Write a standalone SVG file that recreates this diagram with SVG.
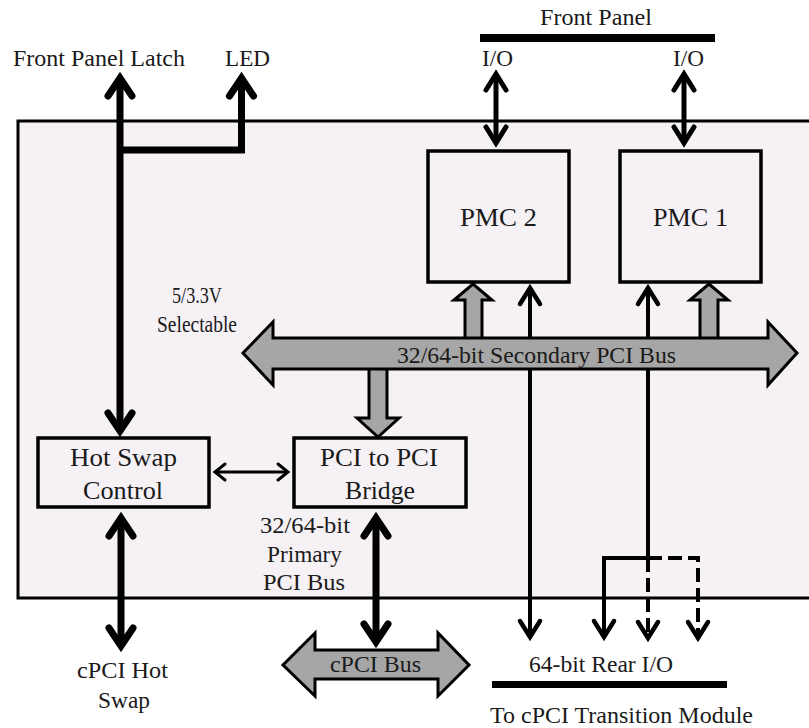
<svg xmlns="http://www.w3.org/2000/svg" width="809" height="728" viewBox="0 0 809 728" font-family="'Liberation Serif', 'DejaVu Serif', serif">
  <style>
    text { font-family: "Liberation Serif", "DejaVu Serif", serif; fill: #1a1a1a; font-size: 23px; }
    .lbl { font-size: 26px; }
    .box { fill: #f5f1f5; stroke: #000; stroke-width: 3.5; }
    .bus { fill: #a6a6a6; stroke: #000; stroke-width: 3; stroke-linejoin: miter; }
    .thick { fill: none; stroke: #000; stroke-width: 7; stroke-linejoin: miter; }
    .med { fill: none; stroke: #000; stroke-width: 5; }
    .thin { fill: none; stroke: #000; stroke-width: 4; stroke-linejoin: miter; }
    .fine { fill: none; stroke: #000; stroke-width: 3; }
    .dash { stroke-dasharray: 14 6; }
  </style>
  <defs>
    <marker id="hd-thick" markerUnits="userSpaceOnUse" markerWidth="40" markerHeight="40" orient="auto-start-reverse" refX="0" refY="0" overflow="visible">
      <path d="M-18,-12 L0,0 L-18,12" fill="none" stroke="#000" stroke-width="7" stroke-linecap="round" stroke-linejoin="miter"/>
    </marker>
    <marker id="hd-med" markerUnits="userSpaceOnUse" markerWidth="40" markerHeight="40" orient="auto-start-reverse" refX="0" refY="0" overflow="visible">
      <path d="M-16,-10 L0,0 L-16,10" fill="none" stroke="#000" stroke-width="5" stroke-linecap="round" stroke-linejoin="miter"/>
    </marker>
    <marker id="hd-thin" markerUnits="userSpaceOnUse" markerWidth="40" markerHeight="40" orient="auto-start-reverse" refX="0" refY="0" overflow="visible">
      <path d="M-16,-10 L0,0 L-16,10" fill="none" stroke="#000" stroke-width="4.5" stroke-linecap="round" stroke-linejoin="miter"/>
    </marker>
    <marker id="hd-fine" markerUnits="userSpaceOnUse" markerWidth="30" markerHeight="30" orient="auto-start-reverse" refX="0" refY="0" overflow="visible">
      <path d="M-10,-8 L0,0 L-10,8" fill="none" stroke="#000" stroke-width="3" stroke-linecap="round" stroke-linejoin="miter"/>
    </marker>
  </defs>

  <rect width="809" height="728" fill="#ffffff"/>

  <!-- board outline -->
  <g id="board">
    <rect x="18" y="121" width="800" height="477" fill="#f5f1f5" stroke="#000" stroke-width="3"/>
  </g>

  <!-- external labels and panel bars -->
  <g id="front-panel">
    <rect x="480" y="34" width="235" height="8" fill="#000"/>
    <text x="540" y="25" textLength="112" lengthAdjust="spacingAndGlyphs">Front Panel</text>
    <text x="482" y="66" textLength="31" lengthAdjust="spacingAndGlyphs">I/O</text>
    <text x="673" y="66" textLength="31" lengthAdjust="spacingAndGlyphs">I/O</text>
  </g>
  <g id="latch-label">
    <text x="13" y="66" textLength="172" lengthAdjust="spacingAndGlyphs">Front Panel Latch</text>
  </g>
  <g id="led-label">
    <text x="225" y="66" textLength="45" lengthAdjust="spacingAndGlyphs">LED</text>
  </g>
  <g id="voltage-label">
    <text x="172" y="303" textLength="50" lengthAdjust="spacingAndGlyphs">5/3.3V</text>
    <text x="157" y="332" textLength="80" lengthAdjust="spacingAndGlyphs">Selectable</text>
  </g>
  <g id="primary-label">
    <text x="260" y="533" textLength="90" lengthAdjust="spacingAndGlyphs">32/64-bit</text>
    <text x="267" y="562" textLength="75" lengthAdjust="spacingAndGlyphs">Primary</text>
    <text x="263" y="590" textLength="82" lengthAdjust="spacingAndGlyphs">PCI Bus</text>
  </g>
  <g id="hotswap-label">
    <text x="77" y="678" textLength="91" lengthAdjust="spacingAndGlyphs">cPCI Hot</text>
    <text x="98" y="708" textLength="52" lengthAdjust="spacingAndGlyphs">Swap</text>
  </g>
  <g id="rear-io">
    <text x="529" y="672" textLength="144" lengthAdjust="spacingAndGlyphs">64-bit Rear I/O</text>
    <rect x="492" y="681" width="235" height="7" fill="#000"/>
    <text x="490" y="723" textLength="263" lengthAdjust="spacingAndGlyphs">To cPCI Transition Module</text>
  </g>

  <!-- connectors -->
  <g id="connectors">
    <!-- front panel latch to hot swap control -->
    <line class="thick" x1="120" y1="78" x2="120" y2="431" marker-start="url(#hd-thick)" marker-end="url(#hd-thick)"/>
    <!-- LED tap -->
    <path class="thick" d="M117,150 H241.5 V78" marker-end="url(#hd-thick)"/>
    <!-- hot swap control to cPCI hot swap -->
    <line class="thick" x1="121" y1="518" x2="121" y2="646" marker-start="url(#hd-thick)" marker-end="url(#hd-thick)"/>
    <!-- bridge to cPCI bus -->
    <line class="thick" x1="376" y1="518" x2="376" y2="642" marker-start="url(#hd-thick)" marker-end="url(#hd-thick)"/>
    <!-- hot swap control to bridge -->
    <line class="fine" x1="215" y1="472" x2="288" y2="472" marker-start="url(#hd-fine)" marker-end="url(#hd-fine)"/>
    <!-- front panel I/O -->
    <line class="med" x1="496" y1="74" x2="496" y2="143" marker-start="url(#hd-med)" marker-end="url(#hd-med)"/>
    <line class="med" x1="684" y1="74" x2="684" y2="143" marker-start="url(#hd-med)" marker-end="url(#hd-med)"/>
    <!-- PMC 2 rear I/O -->
    <line class="thin" x1="530" y1="288" x2="530" y2="637" marker-start="url(#hd-thin)" marker-end="url(#hd-thin)"/>
    <!-- PMC 1 rear I/O with alternate routes -->
    <line class="thin" x1="648" y1="288" x2="648" y2="558" marker-start="url(#hd-thin)"/>
    <path class="thin" d="M650,558 H604 V637" marker-end="url(#hd-thin)"/>
    <line class="thin dash" x1="648" y1="558" x2="648" y2="638" marker-end="url(#hd-thin)"/>
    <path class="thin dash" d="M648,558 H698 V638" marker-end="url(#hd-thin)"/>
    <!-- secondary bus block arrows -->
    <path class="bus" d="M465,339 V300 H454 L473,284 L492,300 H482 V339 Z"/>
    <path class="bus" d="M700,339 V300 H690 L709,284 L728,300 H718 V339 Z"/>
    <path class="bus" d="M369,368 V418 H357 L378,437 L399,418 H387 V368 Z"/>
  </g>

  <!-- buses -->
  <g id="secondary-bus">
    <path class="bus" d="M243,353 L273,322 V338 H768 V322 L797,353 L768,385 V369 H273 V385 Z"/>
    <text x="397" y="363" textLength="279" lengthAdjust="spacingAndGlyphs">32/64-bit Secondary PCI Bus</text>
  </g>
  <g id="cpci-bus">
    <path class="bus" d="M283,665 L315,633 V650 H438 V633 L469,665 L438,696 V679 H315 V696 Z"/>
    <text x="330" y="672" textLength="91" lengthAdjust="spacingAndGlyphs">cPCI Bus</text>
  </g>

  <!-- blocks -->
  <g id="pmc2">
    <rect class="box" x="428" y="151" width="141" height="131"/>
    <text class="lbl" x="460" y="226" textLength="77" lengthAdjust="spacingAndGlyphs">PMC 2</text>
  </g>
  <g id="pmc1">
    <rect class="box" x="620" y="151" width="141" height="131"/>
    <text class="lbl" x="653" y="226" textLength="75" lengthAdjust="spacingAndGlyphs">PMC 1</text>
  </g>
  <g id="hot-swap-control">
    <rect class="box" x="38" y="438" width="171" height="69"/>
    <text class="lbl" x="70" y="466" textLength="107" lengthAdjust="spacingAndGlyphs">Hot Swap</text>
    <text class="lbl" x="83" y="499" textLength="80" lengthAdjust="spacingAndGlyphs">Control</text>
  </g>
  <g id="pci-bridge">
    <rect class="box" x="294" y="438" width="172" height="69"/>
    <text class="lbl" x="320" y="466" textLength="118" lengthAdjust="spacingAndGlyphs">PCI to PCI</text>
    <text class="lbl" x="345" y="499" textLength="70" lengthAdjust="spacingAndGlyphs">Bridge</text>
  </g>
</svg>
